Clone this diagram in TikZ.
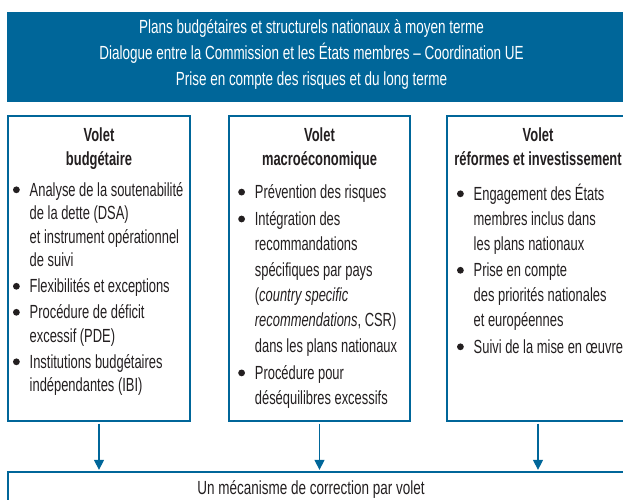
\documentclass[tikz,border=0pt]{standalone}
\usepackage{fontspec}
\setmainfont{Liberation Sans}[FakeStretch=0.68]
\newfontfamily\headfont{Liberation Sans}[FakeStretch=0.68]
\newfontfamily\bannerfont{Liberation Sans}[FakeStretch=0.71]
\usetikzlibrary{arrows.meta}
\definecolor{eublue}{RGB}{0,102,153}
\definecolor{txt}{RGB}{35,31,32}
\newcommand{\bodyfont}{\fontsize{19}{24}\selectfont}
\newcommand{\bdot}{\tikz[baseline=-6.2pt]\fill[txt] (0,0) circle (3.4pt);}
\newcommand{\bitem}[1]{\hbox{\makebox[16.7pt][l]{\bdot}#1}}
\newcommand{\bcont}[1]{\hbox{\hspace*{16.7pt}#1}}
\newcommand{\ctrline}[1]{\hbox to 0pt{\hss#1\hss}}
\tikzset{
  boxstyle/.style={draw=eublue, line width=1.3pt, minimum height=305pt, inner sep=0pt},
  bannerstyle/.style={fill=eublue, inner sep=0pt, minimum width=623pt, minimum height=90pt},
  txtnode/.style={inner sep=0pt, text=txt, font=\bodyfont, anchor=base west},
  headnode/.style={inner sep=0pt, text=txt, font=\headfont\bodyfont\bfseries, anchor=base},
  arr/.style={draw=eublue, line width=1.3pt, shorten <=2pt, shorten >=1.5pt, -{Triangle[length=10pt,width=10pt]}}
}
\begin{document}
\begin{tikzpicture}[x=1pt,y=-1pt]
\useasboundingbox (0,0) rectangle (623,500);
\clip (0,0) rectangle (623,500);
% banner
\node[bannerstyle] (banner) at (318.5,57) {};
\node[inner sep=0pt, text=white, font=\bannerfont\bodyfont, anchor=base] (bannertext) at (311.5,34)
  {\vtop{\baselineskip=25.8pt
    \ctrline{Plans budgétaires et structurels nationaux à moyen terme}
    \ctrline{Dialogue entre la Commission et les États membres – Coordination UE}
    \ctrline{Prise en compte des risques et du long terme}}};
% boxes
\node[boxstyle, minimum width=182pt] (b1) at (99,268.5) {};
\node[boxstyle, minimum width=181pt] (b2) at (319.5,268.5) {};
\node[boxstyle, minimum width=182pt] (b3) at (538,268.5) {};
% headings
\node[headnode] (h1) at (b1.center |- 0,141) {\vtop{\baselineskip=24.5pt\ctrline{Volet}\ctrline{budgétaire}}};
\node[headnode] (h2) at (b2.center |- 0,141) {\vtop{\baselineskip=24.5pt\ctrline{Volet}\ctrline{macroéconomique}}};
\node[headnode] (h3) at (b3.center |- 0,141) {\vtop{\baselineskip=24.5pt\ctrline{Volet}\ctrline{réformes et investissement}}};
% bodies
\node[txtnode] (t1) at (12.8,196) {\vtop{\baselineskip=23.5pt
  \bitem{Analyse de la soutenabilité}
  \bcont{de la dette (DSA)}
  \bcont{et instrument opérationnel}
  \bcont{de suivi}\vskip2.5pt
  \bitem{Flexibilités et exceptions}\vskip2.5pt
  \bitem{Procédure de déficit}
  \bcont{excessif (PDE)}\vskip2.5pt
  \bitem{Institutions budgétaires}
  \bcont{indépendantes (IBI)}}};
\node[txtnode] (t2) at (238,198.3) {\vtop{\baselineskip=25.4pt
  \bitem{Prévention des risques}\vskip1.5pt
  \bitem{Intégration des}
  \bcont{recommandations}
  \bcont{spécifiques par pays}
  \bcont{(\textit{country specific}}
  \bcont{\textit{recommendations}, CSR)}
  \bcont{dans les plans nationaux}\vskip1.5pt
  \bitem{Procédure pour}
  \bcont{déséquilibres excessifs}}};
\node[txtnode] (t3) at (456.8,200) {\vtop{\baselineskip=25pt
  \bitem{Engagement des États}
  \bcont{membres inclus dans}
  \bcont{les plans nationaux}\vskip1.5pt
  \bitem{Prise en compte}
  \bcont{des priorités nationales}
  \bcont{et européennes}\vskip1.5pt
  \bitem{Suivi de la mise en œuvre}}};
% bottom
\node[draw=eublue, line width=1.3pt, minimum width=622pt, minimum height=38pt, inner sep=0pt] (bot) at (319,491) {};
\node[inner sep=0pt, text=txt, font=\bannerfont\bodyfont, anchor=base] (bottext) at (311,494) {Un mécanisme de correction par volet};
% arrows
\draw[arr] (b1.south) -- (b1.south |- bot.north);
\draw[arr] (b2.south) -- (b2.south |- bot.north);
\draw[arr] (b3.south) -- (b3.south |- bot.north);
\end{tikzpicture}
\end{document}
